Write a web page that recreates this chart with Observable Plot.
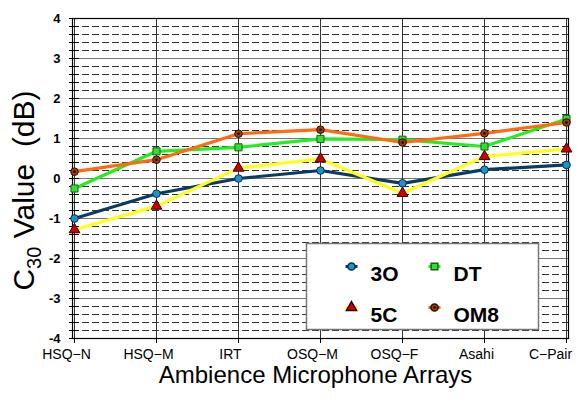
<!DOCTYPE html>
<html>
<head>
<meta charset="utf-8">
<script src="https://cdn.jsdelivr.net/npm/d3@7"></script>
<script src="https://cdn.jsdelivr.net/npm/@observablehq/plot@0.6"></script>
<style>
  body { margin: 0; background: white; }
  svg { font-family: "Liberation Sans", Arial, sans-serif; }
</style>
</head>
<body>
<div id="chart"></div>
<script>
const categories = ["HSQ−N", "HSQ−M", "IRT", "OSQ−M", "OSQ−F", "Asahi", "C−Pair"];
const values3O  = [-1.00, -0.38, 0.00, 0.20, -0.12, 0.22, 0.34];
const values5C  = [-1.28, -0.69, 0.26, 0.49, -0.37, 0.55, 0.74];
const valuesDT  = [-0.25, 0.68, 0.78, 0.99, 0.97, 0.80, 1.49];
const valuesOM8 = [0.17, 0.47, 1.12, 1.22, 0.90, 1.13, 1.40];
const seriesNames = ["3O", "5C", "DT", "OM8"];
const yTickLabels = [-4, -3, -2, -1, 0, 1, 2, 3, 4];

const seriesValues = [values3O, values5C, valuesDT, valuesOM8];
const styles = {
  "3O":  {line: "#0b3b63", fill: "#1d93c9", stroke: "#0b2a45", symbol: "circle", r: 3.8},
  "5C":  {line: "#ffff1a", fill: "#cc0000", stroke: "#330000", symbol: "triangle", r: 4},
  "DT":  {line: "#22ee22", fill: "#33dd33", stroke: "#116611", symbol: "square", r: 4},
  "OM8": {line: "#ff6a12", fill: "#9a3c10", stroke: "#2a1000", symbol: "circle", r: 3.8}
};
const rows = seriesNames.flatMap((s, i) => categories.map((c, j) => ({series: s, cat: c, v: seriesValues[i][j]})));

const minor = d3.range(-40, 41, 2).map(d => d / 10).filter(d => Math.abs(d - Math.round(d)) > 1e-6);
const allTicks = d3.range(-40, 41, 2).map(d => d / 10);

const fx0 = 72, fx1 = 568, fy0 = 18, fy1 = 338;
const legendItems = [
  {name: "3O", cx: 351, cy: 266},
  {name: "DT", cx: 434, cy: 266},
  {name: "5C", cx: 351, cy: 307},
  {name: "OM8", cx: 434, cy: 307}
];

const marks = [
  Plot.ruleY(minor, {stroke: "#333", strokeDasharray: "7,3", strokeWidth: 1}),
  Plot.ruleY(yTickLabels, {stroke: "#777", strokeWidth: 1.2}),
  Plot.ruleX(categories, {stroke: "#333", strokeWidth: 1}),
  Plot.frame({stroke: "black", strokeWidth: 1.2}),
  Plot.ruleY(allTicks, {y: d => d, x1: () => categories[0], x2: () => categories[0], insetLeft: -5, insetRight: -5, stroke: "black"}),
  Plot.ruleX(categories, {x: d => d, y1: () => -4, y2: () => -4, insetBottom: -5, stroke: "black"}),
  Plot.axisY(yTickLabels, {tickSize: 0, tickPadding: 12, fontSize: 13, fontWeight: "bold", tickFormat: d => String(d), label: null}),
  Plot.axisX(categories.slice(0, 6), {tickSize: 0, tickPadding: 11, dx: -8, fontSize: 14, label: null}),
  Plot.axisX(categories.slice(6), {tickSize: 0, tickPadding: 11, dx: -16, fontSize: 14, label: null})
];
for (const s of seriesNames) {
  marks.push(Plot.line(rows.filter(d => d.series === s), {x: "cat", y: "v", stroke: styles[s].line, strokeWidth: 3.2}));
}
for (const s of seriesNames) {
  const st = styles[s];
  marks.push(Plot.dot(rows.filter(d => d.series === s), {x: "cat", y: "v", symbol: st.symbol, r: st.r, fill: st.fill, stroke: st.stroke, strokeWidth: 1}));
  if (s === "OM8") marks.push(Plot.dot(rows.filter(d => d.series === s), {x: "cat", y: "v", r: 1.3, fill: "#1a0800"}));
}
// legend
marks.push(Plot.frame({fill: "white", stroke: "#777", strokeWidth: 1.5,
  insetLeft: 306 - fx0, insetRight: fx1 - 538, insetTop: 243 - fy0, insetBottom: fy1 - 329}));
for (const it of legendItems) {
  const st = styles[it.name];
  marks.push(Plot.frame({fill: st.line, stroke: "none",
    insetLeft: it.cx - 6 - fx0, insetRight: fx1 - (it.cx + 6), insetTop: it.cy - 1.5 - fy0, insetBottom: fy1 - (it.cy + 1.5)}));
  marks.push(Plot.dot([it], {frameAnchor: "top-left", dx: it.cx - fx0, dy: it.cy - fy0, symbol: st.symbol, r: st.r * 0.95, fill: st.fill, stroke: st.stroke}));
  if (it.name === "OM8") marks.push(Plot.dot([it], {frameAnchor: "top-left", dx: it.cx - fx0, dy: it.cy - fy0, r: 1.2, fill: "#1a0800"}));
  marks.push(Plot.text([it], {frameAnchor: "top-left", dx: it.cx - fx0 + 19, dy: it.cy - fy0, text: "name", textAnchor: "start", fontSize: 21, fontWeight: "bold", fill: "black"}));
}
// axis titles
marks.push(Plot.text(["Ambience Microphone Arrays"], {frameAnchor: "bottom", dx: -5, dy: 44, text: d => d, fontSize: 24, fill: "black"}));
marks.push(Plot.text(["C30 Value  (dB)"], {frameAnchor: "left", dx: -48, dy: 12, rotate: -90, text: d => d, fontSize: 30, fill: "black", className: "ylab"}));

const chart = Plot.plot({
  width: 577, height: 400,
  marginLeft: 72, marginRight: 9, marginTop: 18, marginBottom: 62,
  style: {background: "white", fontFamily: "Liberation Sans, Arial, sans-serif", color: "black"},
  x: {type: "point", domain: categories, padding: 0},
  y: {domain: [-4, 4]},
  marks
});
document.getElementById("chart").appendChild(chart);

// subscript for y title, centred manually
const t = d3.select(chart).select(".ylab text");
t.text(null).style("white-space", "pre").attr("text-anchor", "start");
t.append("tspan").text("C");
t.append("tspan").attr("font-size", 20).attr("dy", 7).text("30");
t.append("tspan").attr("dy", -7).text(" Value  (dB)");
const L = t.node().getComputedTextLength();
t.attr("x", -L / 2);
</script>
</body>
</html>
